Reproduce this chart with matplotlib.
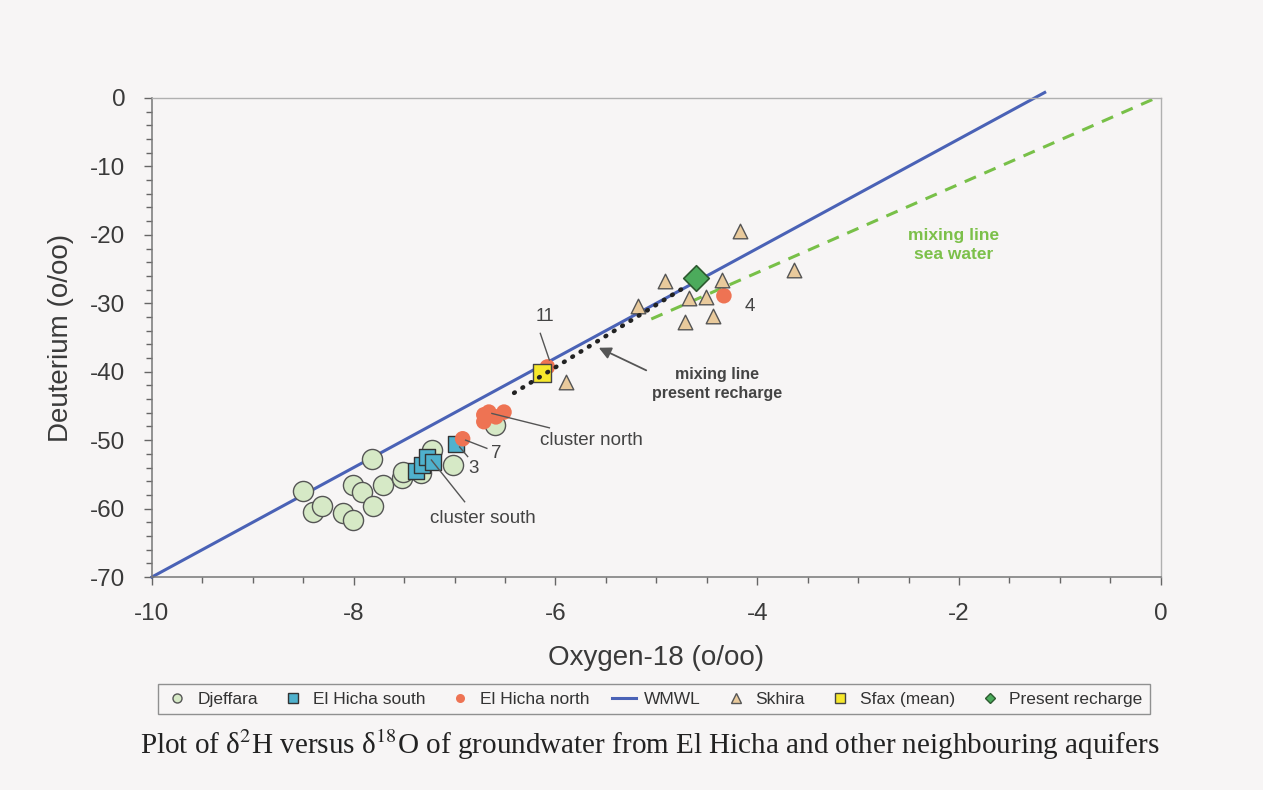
import matplotlib
matplotlib.use("Agg")
import matplotlib.pyplot as plt
from matplotlib.lines import Line2D

# Djeffara
dj_x = [-8.50, -8.40, -8.31, -8.11, -8.01, -8.01, -7.92, -7.82, -7.81, -7.71,
        -7.52, -7.51, -7.33, -7.22, -7.02, -6.60]
dj_y = [-57.5, -60.5, -59.6, -60.6, -61.7, -56.6, -57.6, -52.7, -59.6, -56.6,
        -55.6, -54.6, -54.8, -51.5, -53.7, -47.8]
# El Hicha south
south_x = [-7.38, -7.32, -7.27, -7.21, -6.99]
south_y = [-54.5, -53.6, -52.4, -53.2, -50.5]
# El Hicha north
north_x = [-6.71, -6.66, -6.51, -6.59, -6.71, -6.92, -4.33, -6.08]
north_y = [-46.3, -45.9, -45.9, -46.6, -47.3, -49.8, -28.9, -39.3]
# Skhira
sk_x = [-4.17, -4.91, -4.35, -3.64, -5.18, -4.68, -4.51, -4.44, -4.72, -5.90]
sk_y = [-19.4, -26.8, -26.6, -25.2, -30.4, -29.3, -29.1, -31.9, -32.8, -41.5]
# Sfax (mean) and present recharge
sfax_x, sfax_y = [-6.13], [-40.2]
rech_x, rech_y = [-4.61], [-26.3]

# lines
wmwl_x = [-10, -1.15]
wmwl_y = [8 * v + 10 for v in wmwl_x]
sea_x = [-5.05, 0.0]
sea_y = [-32.3, 0.3]
mix_x = [-6.41, -4.68]
mix_y = [-43.1, -27.3]

plt.rcParams['font.family'] = ['Liberation Sans', 'DejaVu Sans']
plt.rcParams['mathtext.fontset'] = 'stix'
plt.rcParams['axes.unicode_minus'] = False

bg = '#f7f5f5'
fig = plt.figure(figsize=(12.63, 7.90), dpi=100, facecolor=bg)
ax = fig.add_axes([0.1203, 0.2696, 0.7987, 0.6064], facecolor=bg)

ax.plot(wmwl_x, wmwl_y, color='#4a62b6', lw=2.2, clip_on=False, zorder=2)
ax.plot(sea_x, sea_y, color='#78c048', lw=2.2, ls=(0, (4, 3)), clip_on=False, zorder=2)

ax.scatter(dj_x, dj_y, s=210, marker='o', facecolor='#d6e9c6', edgecolor='#555555',
           lw=1.0, zorder=3)
ax.scatter(south_x, south_y, s=135, marker='s', facecolor='#4fb1cd', edgecolor='#333333',
           lw=1.0, zorder=4)
ax.scatter(north_x, north_y, s=125, marker='o', facecolor='#ee7353', edgecolor='none',
           zorder=5)
ax.scatter(sk_x, sk_y, s=110, marker='^', facecolor='#e9ca9c', edgecolor='#555555',
           lw=1.0, zorder=5)
ax.scatter(sfax_x, sfax_y, s=175, marker='s', facecolor='#f6e82c', edgecolor='#444444',
           lw=1.0, zorder=6)
ax.scatter(rech_x, rech_y, s=170, marker='D', facecolor='#4cab5c', edgecolor='#2d5a30',
           lw=1.2, zorder=7)
ax.plot(mix_x, mix_y, color='#222222', lw=3.2, ls=(0, (0.2, 2.0)),
        dash_capstyle='round', zorder=8)

# annotations: leader lines and labels
txt = '#444444'
lc = '#555555'
leaders = [
    ((-6.15, -34.4), (-6.06, -38.3)),   # 11
    ((-6.06, -48.2), (-6.63, -46.1)),   # cluster north
    ((-6.68, -51.2), (-6.89, -50.0)),   # 7
    ((-6.87, -52.4), (-6.95, -51.0)),   # 3
    ((-6.90, -59.0), (-7.23, -52.9)),   # cluster south
]
for (x0, y0), (x1, y1) in leaders:
    ax.plot([x0, x1], [y0, y1], color=lc, lw=1.0, zorder=9)
ax.annotate('', xy=(-5.57, -36.5), xytext=(-5.10, -39.8),
            arrowprops=dict(arrowstyle='-|>', color=lc, lw=1.3, shrinkA=0, shrinkB=0,
                            mutation_scale=18), zorder=9)

ax.text(-6.10, -32.0, '11', fontsize=13, color=txt, ha='center', va='center')
ax.text(-4.40, -41.8, 'mixing line\npresent recharge', fontsize=11.5, color=txt,
        fontweight='bold', ha='center', va='center', linespacing=1.3)
ax.text(-5.64, -50.0, 'cluster north', fontsize=13.5, color=txt, ha='center', va='center')
ax.text(-6.59, -51.9, '7', fontsize=13.5, color=txt, ha='center', va='center')
ax.text(-6.81, -54.1, '3', fontsize=13.5, color=txt, ha='center', va='center')
ax.text(-6.72, -61.5, 'cluster south', fontsize=13.5, color=txt, ha='center', va='center')
ax.text(-4.07, -30.4, '4', fontsize=13.5, color=txt, ha='center', va='center')
ax.text(-2.05, -21.5, 'mixing line\nsea water', fontsize=12.5, color='#7cc04a',
        fontweight='bold', ha='center', va='center', linespacing=1.3)

ax.set_xlim(-10, 0)
ax.set_ylim(-70, 0)
ax.set_xticks(range(-10, 1, 2))
ax.set_yticks(range(-70, 1, 10))
ax.set_xticks([-10 + 0.5 * i for i in range(21)], minor=True)
ax.set_yticks(range(-70, 1, 2), minor=True)
ax.tick_params(axis='both', which='major', labelsize=17.5, labelcolor='#3a3a3a',
               color='#666666', length=6, width=1, pad=13)
ax.tick_params(axis='both', which='minor', color='#666666', length=4, width=1)
ax.tick_params(axis='y', which='major', pad=13)

for side in ['left', 'bottom']:
    ax.spines[side].set_color('#777777')
    ax.spines[side].set_linewidth(1.1)
for side in ['top', 'right']:
    ax.spines[side].set_color('#b0b0b0')
    ax.spines[side].set_linewidth(1.0)

ax.set_xlabel('Oxygen-18 (o/oo)', fontsize=20, color='#3a3a3a', labelpad=14)
ax.set_ylabel('Deuterium (o/oo)', fontsize=20, color='#3a3a3a', labelpad=12)

handles = [
    Line2D([], [], ls='none', marker='o', ms=6.5, mfc='#d6e9c6', mec='#555555'),
    Line2D([], [], ls='none', marker='s', ms=6.5, mfc='#4fb1cd', mec='#333333'),
    Line2D([], [], ls='none', marker='o', ms=6.5, mfc='#ee7353', mec='none'),
    Line2D([], [], color='#4a62b6', lw=2.2),
    Line2D([], [], ls='none', marker='^', ms=6.5, mfc='#e9ca9c', mec='#555555'),
    Line2D([], [], ls='none', marker='s', ms=6.5, mfc='#f6e82c', mec='#444444'),
    Line2D([], [], ls='none', marker='D', ms=5.5, mfc='#4cab5c', mec='#2d5a30'),
]
labels = ['Djeffara', 'El Hicha south', 'El Hicha north', 'WMWL', 'Skhira',
          'Sfax (mean)', 'Present recharge']
leg = fig.legend(handles, labels, loc='center', bbox_to_anchor=(0.5178, 1 - 699 / 790),
                 ncol=7, fontsize=12.5, frameon=True, fancybox=False,
                 handlelength=1.4, handletextpad=0.45, columnspacing=1.3,
                 borderpad=0.4)
leg.get_frame().set_edgecolor('#777777')
leg.get_frame().set_facecolor(bg)
leg.get_frame().set_linewidth(1.0)
for t in leg.get_texts():
    t.set_color('#333333')

fig.text(0.5145, 1 - 745 / 790,
         'Plot of δ$^{2}$H versus δ$^{18}$O of groundwater from El Hicha and other neighbouring aquifers',
         fontsize=21, family=['Liberation Serif', 'DejaVu Serif'], color='#222222',
         ha='center', va='center')

fig.savefig('out.png', dpi=100, facecolor=bg)
